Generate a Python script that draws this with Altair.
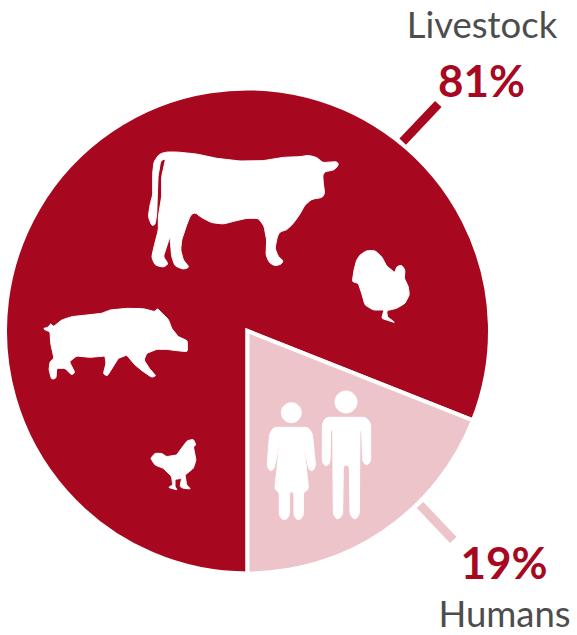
import math
import altair as alt
import pandas as pd

# Shares of the pie
categories = ["Livestock", "Humans"]
shares = [81, 19]
share_labels = ["81%", "19%"]

RED = "#a8081f"
PINK = "#edc4ca"
GREY = "#4d4d4d"
FONT = "Lato"

pie_data = pd.DataFrame({"group": categories, "share": shares, "rank": [0, 1]})


def outline(points, corner=7):
    """Closed path through the points with softened corners."""
    n = len(points)
    parts = []
    for i, (x, y) in enumerate(points):
        px, py = points[i - 1]
        nx, ny = points[(i + 1) % n]
        d0 = math.hypot(px - x, py - y)
        d1 = math.hypot(nx - x, ny - y)
        r0 = min(corner, d0 / 2) / d0
        r1 = min(corner, d1 / 2) / d1
        ax, ay = x + (px - x) * r0, y + (py - y) * r0
        bx, by = x + (nx - x) * r1, y + (ny - y) * r1
        parts.append(f"{'M' if i == 0 else 'L'}{ax:.1f} {ay:.1f} Q{x} {y} {bx:.1f} {by:.1f}")
    return " ".join(parts) + " Z"


def disc(cx, cy, r):
    return f"M{cx - r} {cy} A{r} {r} 0 1 0 {cx + r} {cy} A{r} {r} 0 1 0 {cx - r} {cy} Z"


# Silhouettes, drawn at one third of their path units
COW = outline([
    (110, 36), (140, 36), (200, 42), (260, 55), (330, 63), (400, 62), (460, 52), (510, 50), (535, 46),
    (560, 52), (578, 68), (600, 66), (622, 65), (626, 75), (612, 90), (585, 95), (578, 105), (580, 130),
    (584, 160), (578, 172), (545, 178), (525, 195), (508, 225), (490, 250), (470, 270), (450, 275),
    (442, 290), (435, 325), (445, 350), (460, 362), (455, 372), (435, 378), (418, 368), (408, 345),
    (410, 300), (402, 258), (385, 235), (350, 235), (315, 243), (280, 252), (245, 248), (215, 233),
    (195, 217), (182, 225), (170, 255), (155, 300), (152, 330), (160, 360), (178, 382), (160, 388),
    (135, 378), (125, 350), (120, 290), (110, 320), (100, 350), (115, 372), (100, 382), (75, 375),
    (65, 352), (72, 320), (85, 270), (85, 230), (95, 170), (95, 110), (107, 56), (92, 62), (84, 110),
    (82, 170), (80, 225), (75, 255), (65, 257), (55, 230), (60, 195), (68, 165), (68, 100), (72, 65), (88, 42),
])
TURKEY = outline([
    (690, 345), (710, 332), (735, 332), (755, 350), (770, 378), (795, 398), (800, 380), (815, 375),
    (825, 390), (823, 415), (835, 440), (838, 465), (825, 490), (800, 505), (770, 512), (772, 530),
    (795, 548), (770, 540), (755, 535), (762, 510), (730, 510), (705, 495), (695, 460), (685, 430),
    (667, 425), (672, 390), (680, 360),
], corner=5)
PIG = outline([
    (40, 115), (55, 112), (62, 100), (70, 110), (95, 90), (125, 80), (170, 75), (215, 70), (240, 60),
    (290, 55), (340, 56), (375, 65), (382, 55), (395, 68), (415, 88), (425, 115), (445, 140), (472, 152),
    (472, 185), (440, 182), (410, 178), (380, 178), (350, 190), (342, 210), (358, 235), (378, 258),
    (365, 262), (340, 245), (315, 225), (290, 195), (265, 205), (240, 245), (232, 258), (220, 252),
    (228, 220), (225, 198), (180, 202), (140, 198), (118, 215), (135, 248), (125, 255), (105, 235),
    (80, 235), (78, 265), (65, 268), (57, 240), (60, 215), (72, 205), (62, 160), (60, 125), (45, 120),
], corner=5)
CHICKEN = outline([
    (362, 505), (375, 490), (395, 490), (410, 500), (440, 495), (458, 470), (472, 452), (490, 448),
    (498, 465), (490, 470), (498, 510), (490, 535), (465, 555), (470, 585), (482, 597), (460, 595),
    (450, 590), (455, 565), (435, 568), (435, 590), (442, 600), (415, 592), (428, 585), (425, 560),
    (400, 535), (375, 525),
], corner=4)
WOMAN = disc(154, 278, 30) + outline([
    (100, 322), (205, 322), (217, 340), (227, 440), (216, 455), (205, 445), (190, 358), (206, 510),
    (190, 515), (190, 590), (175, 602), (162, 590), (162, 515), (148, 515), (148, 590), (133, 602),
    (118, 590), (118, 515), (104, 510), (120, 358), (103, 445), (92, 455), (81, 440), (89, 340),
], corner=10)
MAN = disc(318, 246, 33) + outline([
    (258, 292), (378, 292), (392, 310), (392, 425), (380, 437), (368, 425), (365, 330), (360, 330),
    (358, 585), (345, 600), (330, 585), (328, 435), (310, 435), (308, 585), (293, 600), (280, 585),
    (278, 330), (272, 330), (270, 428), (258, 440), (247, 428), (247, 310),
], corner=9)

# Vega draws custom symbols at sqrt(size) / 2 per path unit
ICON_SIZE = 4 / 9


def icon(path, left, top):
    return (
        alt.Chart(pd.DataFrame({"k": [0]}))
        .mark_point(shape=path, size=ICON_SIZE, filled=True, fill="white", opacity=1,
                    stroke="white", strokeWidth=1, strokeJoin="round")
        .encode(x=alt.value(left), y=alt.value(top))
    )


pie = (
    alt.Chart(pie_data)
    .mark_arc(radius=242.5, stroke="white", strokeWidth=4)
    .encode(
        x=alt.value(247.5),
        y=alt.value(331),
        theta=alt.Theta("share:Q", stack=True,
                        scale=alt.Scale(domain=[0, 100], range=[math.pi, 3 * math.pi])),
        order=alt.Order("rank:Q"),
        color=alt.Color("group:N", legend=None,
                        scale=alt.Scale(domain=categories, range=[RED, PINK])),
    )
)


def leader(x1, y1, x2, y2, colour):
    return (
        alt.Chart(pd.DataFrame({"k": [0]}))
        .mark_rule(color=colour, strokeWidth=9)
        .encode(x=alt.value(x1), y=alt.value(y1), x2=alt.value(x2), y2=alt.value(y2))
    )


def label(text, x, y, colour, size, weight):
    return (
        alt.Chart(pd.DataFrame({"t": [text]}))
        .mark_text(font=FONT, fontSize=size, fontWeight=weight, color=colour, align="center", baseline="alphabetic")
        .encode(x=alt.value(x), y=alt.value(y), text="t:N")
    )


chart = alt.layer(
    pie,
    icon(COW, 130, 140),
    icon(TURKEY, 130, 140),
    icon(PIG, 30, 290),
    icon(CHICKEN, 30, 290),
    icon(WOMAN, 240, 320),
    icon(MAN, 240, 320),
    leader(438.3, 104, 402.7, 141.7, RED),
    leader(420, 505, 453.3, 540, PINK),
    label(categories[0], 482, 38, GREY, 36.5, "normal"),
    label(share_labels[0], 481.5, 97, RED, 44, "bold"),
    label(share_labels[1], 504, 579, RED, 44, "bold"),
    label(categories[1], 504.5, 627, GREY, 36.5, "normal"),
).properties(
    width=577, height=635, padding=0, autosize=alt.AutoSizeParams(type="none"),
).configure_view(stroke=None)

chart.save("out.html", embed_options={"renderer": "svg", "actions": False})
